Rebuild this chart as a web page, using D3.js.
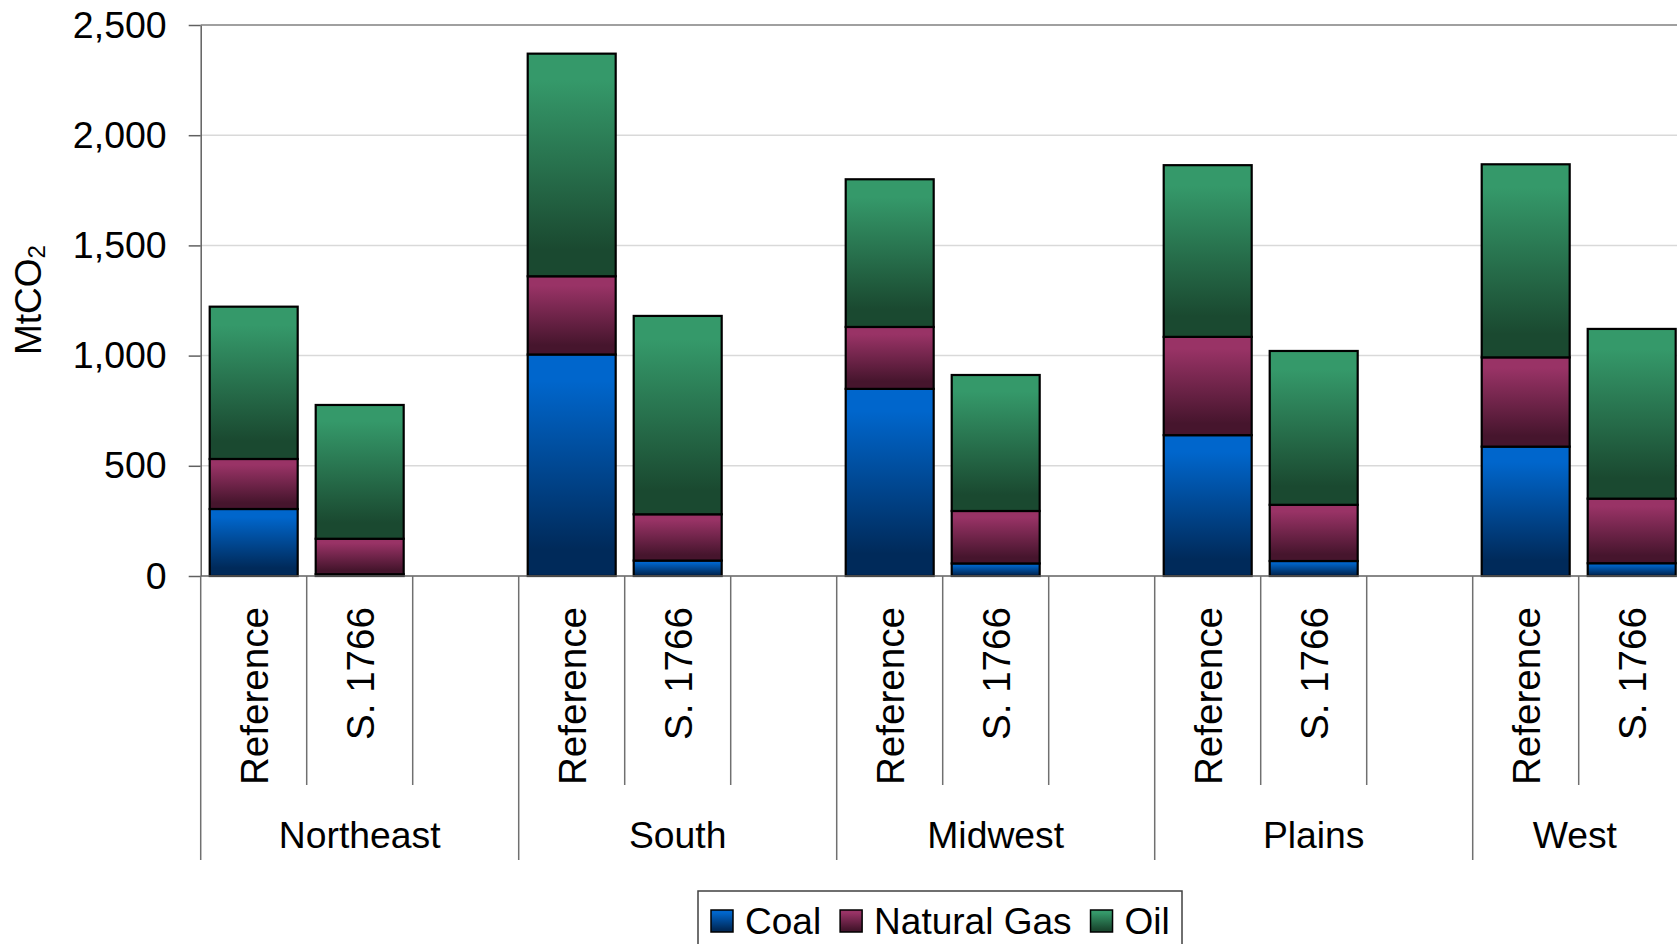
<!DOCTYPE html>
<html>
<head>
<meta charset="utf-8">
<script src="https://cdn.jsdelivr.net/npm/d3@7"></script>
<style>
  body { margin: 0; background: #fff; }
  svg { display: block; font-family: "Liberation Sans", Arial, sans-serif; }
</style>
</head>
<body>
<script>
// chart data
const regions = ["Northeast", "South", "Midwest", "Plains", "West"];
const scenarios = ["Reference", "S. 1766"];
const slots = ["Reference", "S. 1766", ""];
const fuels = ["Coal", "Natural Gas", "Oil"];
const coalRef = [304, 1005, 849, 639, 587];
const coalS1766 = [8, 70, 57, 68, 58];
const gasRef = [227, 355, 281, 446, 405];
const gasS1766 = [161, 210, 238, 255, 293];
const oilRef = [691, 1010, 670, 779, 876];
const oilS1766 = [607, 900, 617, 698, 770];
const yTicks = [0, 500, 1000, 1500, 2000, 2500];

let width = 1677, height = 944;

let rows = [];
regions.forEach((r, i) => {
    rows.push({ region: r, scenario: "Reference", "Coal": coalRef[i], "Natural Gas": gasRef[i], "Oil": oilRef[i] });
    rows.push({ region: r, scenario: "S. 1766", "Coal": coalS1766[i], "Natural Gas": gasS1766[i], "Oil": oilS1766[i] });
});

let svg = d3.select("body")
    .append("svg")
    .attr("width", width)
    .attr("height", height);

// gradients: light on top, dark at the bottom
let grads = {
    "Coal": ["#0066cc", "#002a5a"],
    "Natural Gas": ["#993366", "#46152d"],
    "Oil": ["#35996a", "#1a4930"]
};
let defs = svg.append("defs");
fuels.forEach((f, i) => {
    let g = defs.append("linearGradient")
        .attr("id", "grad" + i)
        .attr("x1", 0).attr("y1", 0).attr("x2", 0).attr("y2", 1);
    g.append("stop").attr("offset", "0%").attr("stop-color", grads[f][0]);
    g.append("stop").attr("offset", "12%").attr("stop-color", grads[f][0]);
    g.append("stop").attr("offset", "88%").attr("stop-color", grads[f][1]);
    g.append("stop").attr("offset", "100%").attr("stop-color", grads[f][1]);
});

let x0 = d3.scaleBand()
    .domain(regions)
    .range([200.7, 200.7 + 318 * regions.length]);

let xs = d3.scaleBand()
    .domain(slots)
    .range([0, x0.bandwidth()]);

let y = d3.scaleLinear()
    .domain([0, 2500])
    .range([576, 25]);

// gridlines
svg.append("g").selectAll("line")
    .data(yTicks.filter(d => d > 0))
    .enter()
    .append("line")
    .attr("x1", 200.7).attr("x2", width)
    .attr("y1", d => y(d)).attr("y2", d => y(d))
    .attr("stroke", d => d === 2500 ? "#808080" : "#d9d9d9")
    .attr("stroke-width", 1.5);

// stacked bars
let stack = d3.stack().keys(fuels);
let series = stack(rows);

svg.append("g").selectAll("g")
    .data(series)
    .enter()
    .append("g")
    .attr("fill", (d, i) => "url(#grad" + i + ")")
    .selectAll("rect")
    .data(d => d)
    .enter()
    .append("rect")
    .attr("x", d => x0(d.data.region) + xs(d.data.scenario) + xs.bandwidth() * 0.085)
    .attr("width", xs.bandwidth() * 0.83)
    .attr("y", d => y(d[1]))
    .attr("height", d => y(d[0]) - y(d[1]))
    .attr("stroke", "#000")
    .attr("stroke-width", 2.2);

// y axis
let yAxis = svg.append("g")
    .attr("transform", "translate(200.7,0)")
    .call(d3.axisLeft(y)
        .tickValues(yTicks)
        .tickSize(12)
        .tickSizeOuter(0)
        .tickPadding(22)
        .tickFormat(d3.format(",")));
yAxis.select(".domain").attr("stroke", "#606060").attr("stroke-width", 1.5);
yAxis.selectAll(".tick line").attr("stroke", "#606060").attr("stroke-width", 1.5);
yAxis.selectAll("text")
    .attr("font-size", 37.5)
    .attr("fill", "#000")
    .attr("font-family", "Liberation Sans, Arial, sans-serif");

// y axis title with subscript
let title = svg.append("text")
    .attr("transform", "translate(41,300) rotate(-90)")
    .attr("text-anchor", "middle")
    .attr("font-size", 37);
title.append("tspan").text("MtCO");
title.append("tspan").attr("font-size", 24).attr("dy", 4).text("2");

// category axis (two levels)
let cat = svg.append("g");
cat.append("line")
    .attr("x1", 200.7).attr("x2", width)
    .attr("y1", 576).attr("y2", 576)
    .attr("stroke", "#606060").attr("stroke-width", 1.5);

regions.forEach(r => {
    // group divider
    cat.append("line")
        .attr("x1", x0(r)).attr("x2", x0(r))
        .attr("y1", 576).attr("y2", 860)
        .attr("stroke", "#707070").attr("stroke-width", 1.5);
    slots.slice(1).forEach(s => {
        cat.append("line")
            .attr("x1", x0(r) + xs(s)).attr("x2", x0(r) + xs(s))
            .attr("y1", 576).attr("y2", 785)
            .attr("stroke", "#707070").attr("stroke-width", 1.5);
    });
    scenarios.forEach(s => {
        let cx = x0(r) + xs(s) + xs.bandwidth() / 2;
        cat.append("text")
            .attr("transform", "translate(" + cx + ",607) rotate(-90)")
            .attr("dy", "0.36em")
            .attr("text-anchor", "end")
            .attr("font-size", 38.6)
            .text(s);
    });
    // region label, centered on the visible part of the group
    let left = x0(r), right = Math.min(x0(r) + x0.bandwidth(), width);
    cat.append("text")
        .attr("x", (left + right) / 2)
        .attr("y", 848)
        .attr("text-anchor", "middle")
        .attr("font-size", 37.3)
        .text(r);
});

// legend
let legend = svg.append("g");
legend.append("rect")
    .attr("x", 698).attr("y", 891)
    .attr("width", 484).attr("height", 80)
    .attr("fill", "#fff")
    .attr("stroke", "#404040")
    .attr("stroke-width", 1.5);

let lx = 711;
fuels.forEach((f, i) => {
    legend.append("rect")
        .attr("x", lx).attr("y", 910)
        .attr("width", 22).attr("height", 22)
        .attr("fill", "url(#grad" + i + ")")
        .attr("stroke", "#000")
        .attr("stroke-width", 1.5);
    let t = legend.append("text")
        .attr("x", lx + 34)
        .attr("y", 934)
        .attr("font-size", 37)
        .text(f);
    lx = lx + 34 + t.node().getComputedTextLength() + 19;
});
</script>
</body>
</html>
